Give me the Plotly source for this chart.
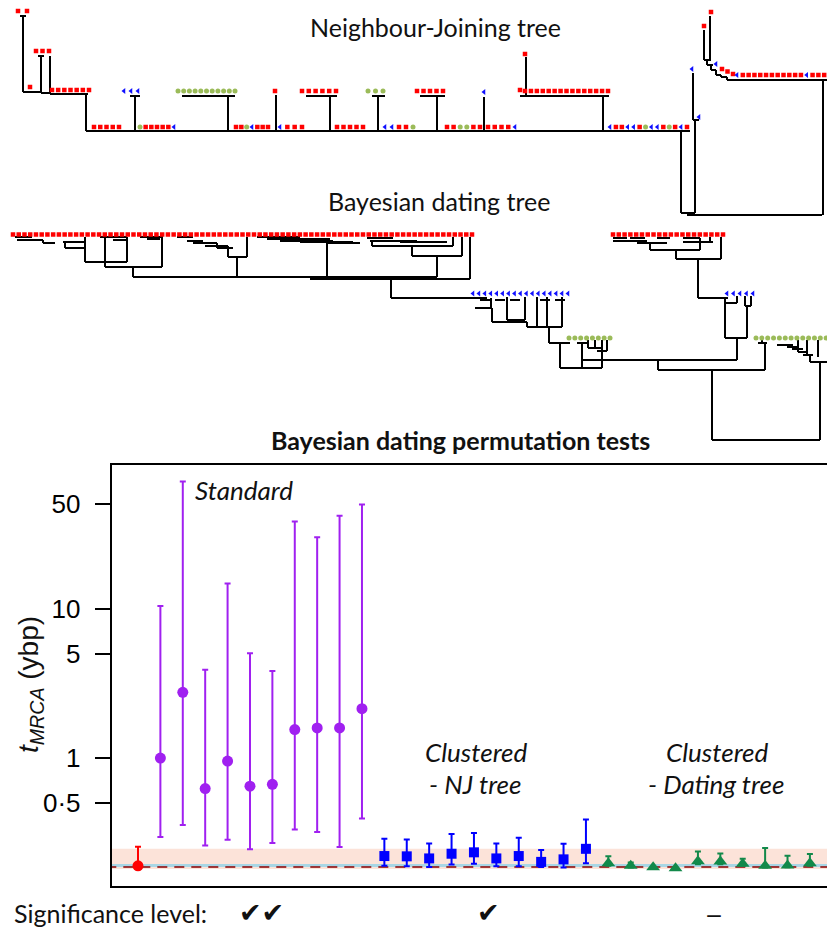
import plotly.graph_objects as go

# The page adds an 8 px body margin, so the figure is 8 px smaller and all
# page positions below are given in the reference picture's pixels.
OFF = 8
W, H = 835 - OFF, 928 - OFF

# ---------------- permutation test results (ybp) ----------------
red_mid = [0.19]
red_hi = [0.255]
red_lo = [0.19]

std_mid = [1.0, 2.75, 0.625, 0.955, 0.648, 0.667, 1.55, 1.59, 1.59, 2.14]
std_hi = [10.4, 70.6, 3.9, 14.7, 5.03, 3.82, 38.2, 30.0, 41.7, 49.6]
std_lo = [0.296, 0.357, 0.26, 0.284, 0.245, 0.27, 0.333, 0.32, 0.254, 0.394]

nj_mid = [0.221, 0.22, 0.213, 0.229, 0.234, 0.213, 0.221, 0.202, 0.21, 0.247]
nj_hi = [0.288, 0.285, 0.268, 0.31, 0.315, 0.268, 0.293, 0.243, 0.267, 0.388]
nj_lo = [0.19, 0.189, 0.187, 0.194, 0.196, 0.189, 0.189, 0.187, 0.185, 0.198]

dt_mid = [0.198, 0.19, 0.186, 0.183, 0.204, 0.203, 0.196, 0.19, 0.191, 0.198]
dt_hi = [0.22, 0.2, 0.186, 0.183, 0.237, 0.23, 0.212, 0.25, 0.222, 0.228]
dt_lo = [0.19, 0.185, 0.183, 0.18, 0.195, 0.195, 0.19, 0.185, 0.186, 0.19]

true_age = 0.187
sampling_age = 0.191
band_lo, band_hi = 0.181, 0.247

ytick_vals = [0.5, 1, 5, 10, 50]
ytick_text = ['0·5', '1', '5', '10', '50']

# ---------------- tree drawings (page pixel layout) ----------------
# tip rows: x_first, x_last, y_first, y_last, colours (R/B/G)
nj_tips = [
    (18, 27, 11, 11, "RR"),
    (36, 49, 51, 51, "RRR"),
    (30, 30, 87, 87, "R"),
    (52, 89, 90, 90, "RRRRRRR"),
    (124, 138, 91, 91, "BBB"),
    (178, 235, 91, 91, "GGGGGGGGGGG"),
    (275, 275, 91, 91, "R"),
    (302, 336, 91, 91, "RRRRRR"),
    (368, 383, 91, 91, "GGG"),
    (417, 443, 91, 91, "RRRRR"),
    (484, 484, 92, 92, "B"),
    (520, 520, 90, 90, "R"),
    (525, 525, 54, 54, "R"),
    (525, 608, 91, 91, "RRRRRRRRRRRRRRR"),
    (94, 119, 127, 127, "RRRRR"),
    (140, 174, 127, 127, "GRRRRRB"),
    (236, 268, 127, 127, "RRGBRRR"),
    (280, 302, 127, 127, "BRRR"),
    (337, 363, 127, 127, "RRRRR"),
    (385, 413, 127, 127, "BBRRG"),
    (447, 480, 127, 127, "RRGGRR"),
    (488, 515, 127, 127, "RRRRB"),
    (610, 687, 127, 127, "BRRBBRGBBRGRBR"),
    (692, 692, 69, 69, "B"),
    (699, 699, 117, 117, "B"),
    (704, 704, 26, 26, "R"),
    (711, 711, 12, 12, "R"),
    (716, 716, 64, 64, "B"),
    (722, 733, 69, 74, "RRR"),
    (737, 830, 75, 75, "BRRRRRRRRRRRBRRRR"),
]
# horizontal branches: y, x_from, x_to
nj_h = [
    (16, 20, 26), (56, 38, 44), (92, 23, 41), (93, 41, 50), (94, 50, 88),
    (131, 86, 690),
    (96, 130, 140), (96, 182, 235), (96, 306, 337), (96, 372, 385), (96, 420, 445),
    (96, 520, 609),
    (213, 681, 695), (120, 693, 699), (215, 687, 822),
    (60, 704, 711), (65, 707, 713), (70, 711, 716), (75, 716, 721), (77, 721, 727), (80, 727, 830),
]
# vertical branches: x, y_from, y_to
nj_v = [
    (23, 16, 92), (41, 56, 93), (50, 56, 94), (86, 94, 131),
    (135, 96, 131), (228, 96, 131), (276, 95, 131), (330, 96, 131), (378, 96, 131),
    (437, 96, 131), (484, 97, 131), (603, 96, 131), (526, 57, 96),
    (681, 131, 213), (695, 120, 213), (693, 73, 120),
    (704, 30, 60), (710, 16, 60), (707, 60, 65), (711, 65, 70), (716, 70, 75),
    (721, 75, 77), (727, 77, 80), (823, 80, 215),
]

bd_tips = [
    (13, 472, 234.5, 234.5, "R" * 81),
    (473, 568, 293.5, 293.5, "B" * 17),
    (569, 610, 338, 338, "G" * 8),
    (613, 723, 234.5, 234.5, "R" * 20),
    (727, 753, 293.5, 293.5, "B" * 5),
    (756, 832, 338, 338, "G" * 14),
]
bd_h = [
    (237, 15, 32), (240, 17, 43), (243, 43, 55), (242, 63, 85), (248, 65, 85),
    (237, 100, 127), (240, 113, 127), (237, 140, 163), (239, 147, 160),
    (237, 177, 193), (241, 187, 203), (243, 193, 217), (246, 205, 228), (248, 217, 233),
    (257, 228, 247),
    (237, 257, 300), (239, 267, 330), (241, 280, 333), (242, 300, 353), (243, 327, 360),
    (238, 367, 393), (241, 370, 417), (242, 400, 447), (246, 372, 453), (256, 412, 462),
    (262, 85, 127), (267, 105, 162), (277, 133, 437), (279, 310, 470), (298, 391, 487),
    (300, 480, 490), (300, 495, 505), (300, 510, 520), (300, 540, 550), (300, 555, 565),
    (308, 475, 492), (320, 507, 525), (322, 492, 527), (327, 527, 562), (343, 549, 570),
    (343, 577, 587), (348, 588, 602), (351, 597, 607), (360, 582, 737), (368, 560, 602),
    (238, 613, 627), (238, 630, 645), (238, 657, 670), (238, 683, 700),
    (241, 613, 647), (243, 637, 667), (242, 683, 713), (250, 650, 700), (259, 676, 721),
    (298, 698, 728), (303, 725, 737), (306, 745, 751), (338, 725, 747),
    (343, 758, 767), (345, 777, 793), (347, 787, 798), (349, 792, 803), (352, 798, 808),
    (355, 803, 813), (362, 810, 828),
    (370, 658, 765), (440, 712, 820),
]
bd_v = [
    (43, 240, 243), (65, 242, 248), (85, 237, 262), (127, 237, 262), (105, 237, 267),
    (162, 237, 267), (133, 267, 277), (217, 243, 248), (228, 246, 257), (247, 237, 257),
    (237, 257, 277), (327, 243, 279), (372, 241, 246), (453, 237, 246), (412, 246, 256),
    (462, 237, 256), (437, 256, 277), (470, 237, 279), (391, 279, 298),
    (491, 298, 308), (492, 308, 322), (507, 297, 320), (525, 297, 320), (527, 322, 327),
    (537, 297, 327), (547, 297, 327), (562, 297, 327), (549, 327, 343),
    (560, 343, 368), (582, 343, 368), (588, 340, 348), (595, 340, 348), (602, 340, 368),
    (607, 340, 351),
    (650, 243, 250), (700, 238, 250), (710, 237, 242), (676, 250, 259), (721, 237, 259),
    (698, 259, 298), (737, 296, 303), (725, 298, 338), (745, 296, 306), (751, 296, 306),
    (747, 306, 338), (737, 338, 360),
    (762, 340, 343), (765, 343, 370), (798, 340, 352), (807, 340, 355), (810, 355, 362),
    (818, 340, 357), (828, 340, 362),
    (658, 360, 370), (712, 370, 440), (820, 362, 440),
]

TIP_STYLE = {
    'R': ('#FF0000', 'square', 4.5),
    'B': ('#1010FF', 'triangle-left', 5),
    'G': ('#9BBB59', 'circle', 5),
}

fig = go.Figure()


def add_branches(h_list, v_list, width):
    xs, ys = [], []
    for y, x1, x2 in h_list:
        xs += [x1, x2, None]
        ys += [y, y, None]
    for x, y1, y2 in v_list:
        xs += [x, x, None]
        ys += [y1, y2, None]
    fig.add_trace(go.Scatter(x=xs, y=ys, mode='lines', xaxis='x', yaxis='y',
                             line=dict(color='black', width=width),
                             hoverinfo='skip', showlegend=False))


def add_tips(rows):
    pts = {k: ([], []) for k in TIP_STYLE}
    for x0, x1, y0, y1, colours in rows:
        n = len(colours)
        for i, c in enumerate(colours):
            f = i / (n - 1) if n > 1 else 0
            pts[c][0].append(x0 + (x1 - x0) * f)
            pts[c][1].append(y0 + (y1 - y0) * f)
    for k, (xs, ys) in pts.items():
        col, sym, size = TIP_STYLE[k]
        fig.add_trace(go.Scatter(x=xs, y=ys, mode='markers', xaxis='x', yaxis='y',
                                 marker=dict(color=col, symbol=sym, size=size, line=dict(width=0)),
                                 hoverinfo='skip', showlegend=False))


add_branches(nj_h, nj_v, 2)
add_tips(nj_tips)
add_branches(bd_h, bd_v, 2)
add_tips(bd_tips)

# ---------------- bottom panel ----------------
XL, XR = -1.174, 31.12
fig.add_trace(go.Scatter(x=[XL - 1, XR + 1, XR + 1, XL - 1, XL - 1],
                         y=[band_lo, band_lo, band_hi, band_hi, band_lo],
                         mode='lines', fill='toself', fillcolor='#FCE3D9',
                         line=dict(width=0), xaxis='x2', yaxis='y2',
                         hoverinfo='skip', showlegend=False))
fig.add_trace(go.Scatter(x=[XL - 1, XR + 1], y=[sampling_age, sampling_age], mode='lines',
                         line=dict(color='#A9D6E5', width=3), xaxis='x2', yaxis='y2',
                         hoverinfo='skip', showlegend=False))
fig.add_trace(go.Scatter(x=[XL - 1, XR + 1], y=[true_age, true_age], mode='lines',
                         line=dict(color='#8B0000', width=1.5, dash='10px,7px'),
                         xaxis='x2', yaxis='y2', hoverinfo='skip', showlegend=False))


def add_group(start, mid, hi, lo, colour, symbol, size):
    xs = list(range(start, start + len(mid)))
    fig.add_trace(go.Scatter(
        x=xs, y=mid, mode='markers', xaxis='x2', yaxis='y2',
        marker=dict(color=colour, symbol=symbol, size=size, line=dict(width=0)),
        error_y=dict(type='data', symmetric=False,
                     array=[h - m for h, m in zip(hi, mid)],
                     arrayminus=[m - l for m, l in zip(mid, lo)],
                     color=colour, thickness=2, width=3),
        showlegend=False))


add_group(0, red_mid, red_hi, red_lo, '#FF0000', 'circle', 11)
add_group(1, std_mid, std_hi, std_lo, '#A020F0', 'circle', 11)
add_group(11, nj_mid, nj_hi, nj_lo, '#0000FF', 'square', 10)
add_group(21, dt_mid, dt_hi, dt_lo, '#12894A', 'triangle-up', 12)


def px(x):
    return (x - OFF) / W


def py(y):
    return 1 - (y - OFF) / H


def label(text, x, y, size, family='Lato', xanchor='center', yanchor='middle',
          angle=0, color='#111111'):
    fig.add_annotation(text=text, x=px(x), y=py(y), xref='paper', yref='paper',
                       xanchor=xanchor, yanchor=yanchor, showarrow=False, textangle=angle,
                       font=dict(family=family, size=size, color=color))


label('Neighbour-Joining tree', 435, 27, 25)
label('Bayesian dating tree', 439, 201, 25)
label('<b>Bayesian dating permutation tests</b>', 460, 440, 25)
label('<i>Standard</i>', 244, 490, 26)
label('<i>Clustered</i>', 476, 752, 26)
label('<i>- NJ tree</i>', 475, 784, 26)
label('<i>Clustered</i>', 717, 752, 26)
label('<i>- Dating tree</i>', 716, 784, 26)
label('Significance level:', 12, 913, 25, xanchor='left')
label('✔✔', 261, 912, 27, family='DejaVu Sans')
label('✔', 488, 912, 27, family='DejaVu Sans')
label('<b>—</b>', 714, 928, 20, yanchor='bottom')
label('<i>t</i><sub><i>MRCA</i></sub> (ybp)', 30, 685, 28, family='Liberation Sans', angle=-90)

fig.update_layout(
    width=W, height=H,
    margin=dict(l=0, r=0, t=0, b=0),
    paper_bgcolor='white', plot_bgcolor='rgba(0,0,0,0)',
    xaxis=dict(domain=[0, 1], range=[OFF, OFF + W], visible=False, fixedrange=True),
    yaxis=dict(domain=[0, 1], range=[OFF + H, OFF], visible=False, fixedrange=True),
    xaxis2=dict(domain=[(111.7 - OFF) / W, 1], range=[XL, XR], anchor='y2',
                showgrid=False, zeroline=False, showticklabels=False, ticks='',
                showline=True, mirror=True, linecolor='black', linewidth=2),
    yaxis2=dict(domain=[1 - (886 - OFF) / H, 1 - (465 - OFF) / H], type='log',
                range=[-0.856, 1.96], anchor='x2', tickvals=ytick_vals, ticktext=ytick_text,
                ticks='outside', ticklen=15, tickwidth=2, tickcolor='black',
                ticklabelstandoff=9,
                showline=True, mirror=False, linecolor='black', linewidth=2,
                showgrid=False, zeroline=False,
                tickfont=dict(family='Liberation Sans', size=26, color='black')),
    showlegend=False,
)

fig.write_html("out.html")
